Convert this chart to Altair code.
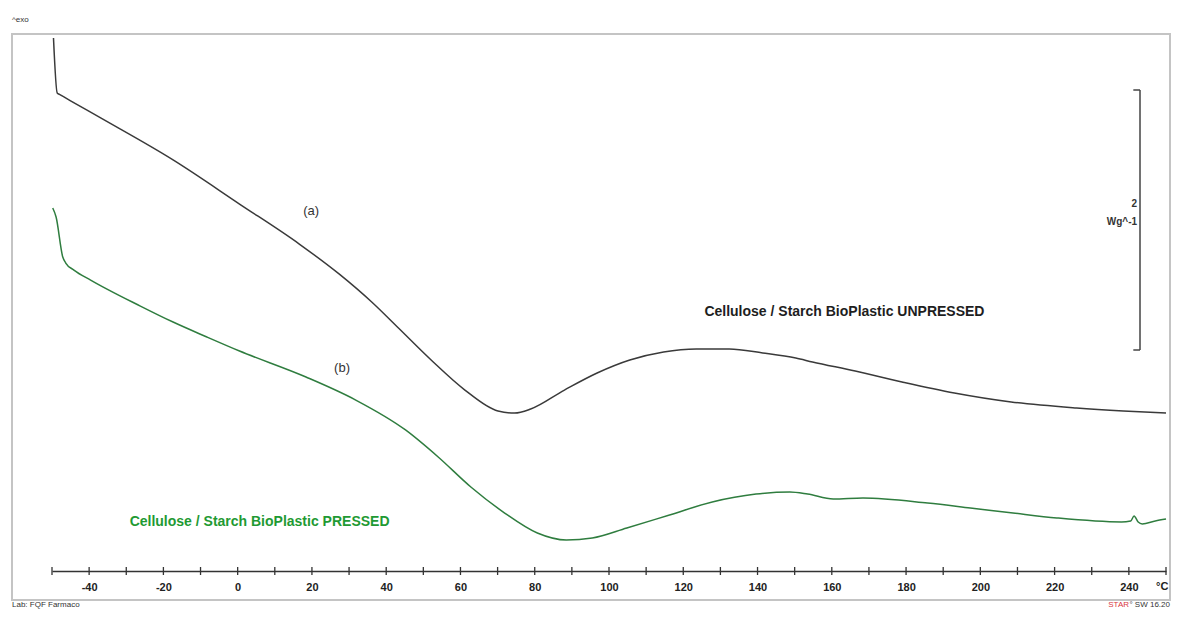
import altair as alt
import pandas as pd

# ---- data (temperature in °C, heat flow in W/g, arbitrary offset) ----
temp_a = [-49.6, -48.6, -48.0, -45.0, -36.9, -17.4, 0.5, 16.6, 27.3, 36.1, 43.3, 52.1, 61.2,
          70.1, 74.6, 78.9, 88.0, 96.8, 105.6, 114.7, 123.5, 132.4, 141.4, 150.3,
          154.8, 166.3, 178.9, 193.0, 208.3, 225.9, 238.5, 250.0]
heat_a = [4.100, 3.677, 3.667, 3.617, 3.485, 3.162, 2.823, 2.515, 2.285,
          2.069, 1.869, 1.623, 1.392, 1.231, 1.215, 1.246, 1.392, 1.523, 1.623, 1.685, 1.708,
          1.708, 1.677, 1.638, 1.608, 1.538, 1.454, 1.369, 1.300, 1.254, 1.231, 1.215]

temp_b = [-49.8, -48.9, -47.1, -46.3, -44.1, -39.6, -26.2, -17.4, -8.3, 0.5, 18.4, 31.8,
          45.2, 54.0, 62.8, 71.9, 80.7, 88.5, 95.5, 104.8, 116.3, 127.8, 139.6, 148.7,
          153.5, 160.4, 168.4, 185.8, 197.3, 208.8, 220.6, 238.0, 240.5, 241.4, 242.5,
          243.6, 247.1, 250.0]
heat_b = [2.792, 2.723, 2.415, 2.369, 2.315, 2.238, 2.038, 1.915, 1.800, 1.692, 1.492,
          1.315, 1.085, 0.877, 0.646, 0.446, 0.292, 0.238, 0.254, 0.331, 0.431, 0.531,
          0.592, 0.608, 0.592, 0.554, 0.562, 0.523, 0.485, 0.446, 0.408, 0.377, 0.385,
          0.423, 0.377, 0.362, 0.385, 0.400]

label_values = list(range(-40, 241, 20))
minor_values = list(range(-50, 251, 10))

W, H = 1114, 537
Y_MAX = 4.1308
FONT = "Liberation Sans"

x_scale = alt.Scale(domain=[-50, 250], nice=False, zero=False)
y_scale = alt.Scale(domain=[0, Y_MAX], nice=False, zero=False)
x_axis = alt.Axis(values=label_values, title=None, grid=False, ticks=False, tickSize=0,
                  domainColor="#333333", domainWidth=1.6,
                  labelExpr="'' + datum.value",
                  labelFont=FONT, labelFontWeight="bold", labelFontSize=11,
                  labelColor="#222222", labelPadding=10)


def xq(field="T"):
    return alt.X(f"{field}:Q", scale=x_scale, axis=x_axis)


def yq(field="Q"):
    return alt.Y(f"{field}:Q", scale=y_scale, axis=None)


df_curves = pd.concat([
    pd.DataFrame({"T": temp_a, "Q": heat_a, "sample": "a"}),
    pd.DataFrame({"T": temp_b, "Q": heat_b, "sample": "b"}),
])

lines = alt.Chart(df_curves).mark_line(interpolate="monotone", strokeWidth=1.5).encode(
    x=xq(), y=yq(),
    color=alt.Color("sample:N", scale=alt.Scale(domain=["a", "b"], range=["#3a3a3a", "#2f7d3f"]),
                    legend=None),
    detail="sample:N",
)

# axis ticks straddling the axis line
ticks = alt.Chart(pd.DataFrame({"T": minor_values})).mark_rule(color="#333333", strokeWidth=1.3).encode(
    x=xq(), y=alt.value(H - 4), y2=alt.value(H + 4),
)

# frame
frame = alt.Chart(pd.DataFrame({"k": [0]})).mark_rect(
    filled=False, stroke="#c4c4c4", strokeWidth=2
).encode(
    x=alt.value(-40), x2=alt.value(1118), y=alt.value(0), y2=alt.value(566)
)

# scale bar (2 W/g)
bar_T = [243.0]
bar_cap_T = [241.2]
bar_lo = [1.7]
bar_hi = [3.7]
scalebar = alt.Chart(pd.DataFrame({"T": bar_T, "Q": bar_lo, "Q2": bar_hi})).mark_rule(
    color="#444444", strokeWidth=1.5
).encode(x=xq(), y=yq(), y2="Q2:Q")
caps = alt.Chart(pd.DataFrame({"T": bar_cap_T * 2, "T2": bar_T * 2, "Q": bar_lo + bar_hi})).mark_rule(
    color="#444444", strokeWidth=1.5
).encode(x=xq(), x2="T2:Q", y=yq())
bar_labels = alt.Chart(pd.DataFrame({"T": [242.2, 242.2], "Q": [2.823, 2.685], "txt": ["2", "Wg^-1"]})).mark_text(
    align="right", baseline="middle", font=FONT, fontSize=10, fontWeight="bold", color="#333333"
).encode(x=xq(), y=yq(), text="txt:N")

# curve labels
ab_labels = alt.Chart(pd.DataFrame({"T": [19.8, 28.1], "Q": [2.77, 1.56], "txt": ["(a)", "(b)"]})).mark_text(
    align="center", baseline="middle", font=FONT, fontSize=13, color="#333333"
).encode(x=xq(), y=yq(), text="txt:N")
unpressed = alt.Chart(pd.DataFrame({"T": [163.4], "Q": [1.99], "txt": ["Cellulose / Starch BioPlastic UNPRESSED"]})).mark_text(
    align="center", baseline="middle", font=FONT, fontSize=14, fontWeight="bold", color="#1e1e1e"
).encode(x=xq(), y=yq(), text="txt:N")
pressed = alt.Chart(pd.DataFrame({"T": [5.9], "Q": [0.377], "txt": ["Cellulose / Starch BioPlastic PRESSED"]})).mark_text(
    align="center", baseline="middle", font=FONT, fontSize=14, fontWeight="bold", color="#1f9a33"
).encode(x=xq(), y=yq(), text="txt:N")
unit = alt.Chart(pd.DataFrame({"T": [249.0], "txt": ["°C"]})).mark_text(
    align="center", baseline="top", font=FONT, fontSize=11, fontWeight="bold", color="#222222"
).encode(x=xq(), y=alt.value(H + 10), text="txt:N")

# small print around the frame
exo = alt.Chart(pd.DataFrame({"txt": ["^exo"]})).mark_text(
    align="left", baseline="middle", font=FONT, fontSize=8, color="#333333").encode(
    x=alt.value(-40), y=alt.value(-14), text="txt:N")
lab = alt.Chart(pd.DataFrame({"txt": ["Lab: FQF Farmaco"]})).mark_text(
    align="left", baseline="middle", font=FONT, fontSize=8, color="#333333").encode(
    x=alt.value(-40), y=alt.value(571), text="txt:N")
star = alt.Chart(pd.DataFrame({"txt": ["STAR"]})).mark_text(
    align="right", baseline="middle", font=FONT, fontSize=8, color="#d9363e").encode(
    x=alt.value(1077), y=alt.value(571), text="txt:N")
sw = alt.Chart(pd.DataFrame({"txt": ["° SW 16.20"]})).mark_text(
    align="right", baseline="middle", font=FONT, fontSize=8, color="#333333").encode(
    x=alt.value(1118), y=alt.value(571), text="txt:N")

chart = alt.layer(
    frame, lines, ticks, scalebar, caps, bar_labels, ab_labels, unpressed, pressed, unit,
    exo, lab, star, sw
).properties(
    width=W, height=H,
    padding={"left": 44, "top": 26, "right": 5, "bottom": 39},
    autosize=alt.AutoSizeParams(type="none"),
    background="white",
).configure_view(strokeWidth=0)

chart.save("out.html", embed_options={"renderer": "svg", "actions": False})
